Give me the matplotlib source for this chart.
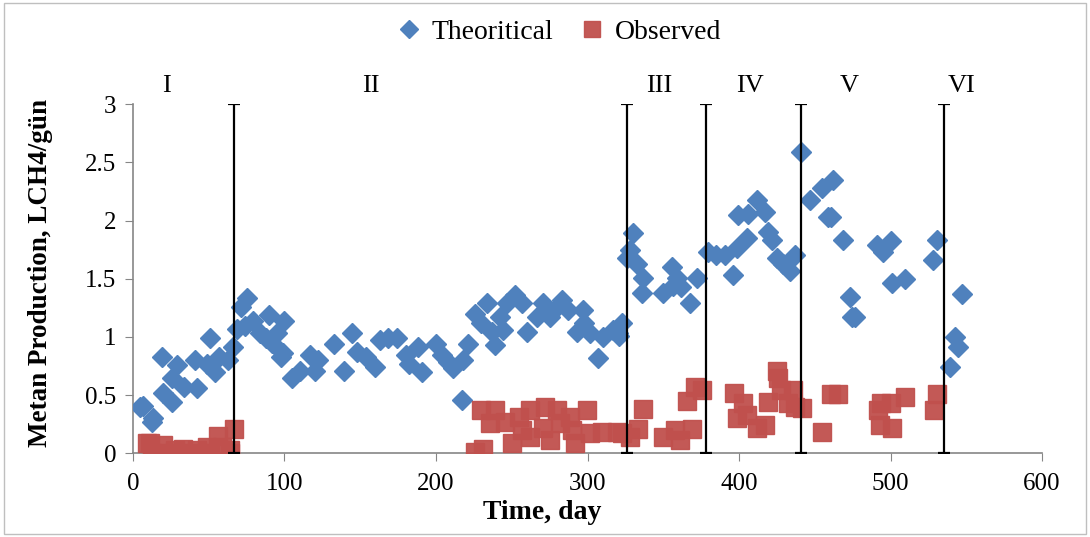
import matplotlib.pyplot as plt
from matplotlib.patches import Rectangle

# Theoritical (blue diamonds)
theo_day = [4.6, 6.6, 12.5, 13, 19, 20, 26, 26, 29, 34, 41, 42, 49, 51, 54, 57, 63, 66,
            68.6, 71, 74, 75, 79, 84, 88, 90, 92, 95, 98, 99, 100, 105, 110, 117, 120,
            122, 133, 139, 144.5, 148, 154, 160, 163, 168, 174, 180, 182, 188, 191,
            200, 204, 208, 211, 217, 218, 221, 226, 230, 233.5, 237, 239, 242, 244,
            247, 252, 257, 260, 266.5, 270.6, 275, 280, 283, 287, 293, 297, 298,
            301.6, 307, 310, 317, 320, 321, 323, 326, 328, 330, 332.6, 336, 336.6,
            350, 356, 356.6, 359, 362, 367.7, 372, 379.5, 385, 391, 396, 398.7, 399,
            405, 406, 412, 417, 419, 422, 425, 429, 433.7, 437, 441, 447, 455, 459,
            461, 462, 468.6, 473, 474.6, 476.6, 491, 495, 500, 501, 509.6, 528,
            530.7, 539, 542.6, 544.6, 547]
theo_val = [0.40, 0.41, 0.27, 0.30, 0.83, 0.52, 0.44, 0.65, 0.76, 0.57, 0.80, 0.56, 0.77,
            0.99, 0.70, 0.83, 0.80, 0.91, 1.07, 1.26, 1.09, 1.33, 1.14, 1.03, 0.99,
            1.19, 0.95, 1.03, 0.83, 0.86, 1.14, 0.65, 0.71, 0.84, 0.71, 0.80, 0.94,
            0.71, 1.03, 0.87, 0.83, 0.74, 0.97, 0.99, 0.99, 0.84, 0.77, 0.91, 0.70,
            0.94, 0.84, 0.78, 0.73, 0.46, 0.80, 0.94, 1.20, 1.12, 1.29, 1.04, 0.93,
            1.17, 1.06, 1.29, 1.36, 1.29, 1.04, 1.17, 1.29, 1.17, 1.26, 1.32, 1.23,
            1.04, 1.23, 1.12, 1.03, 0.82, 1.00, 1.06, 1.03, 1.01, 1.12, 1.68, 1.75,
            1.89, 1.63, 1.38, 1.51, 1.38, 1.60, 1.44, 1.51, 1.43, 1.29, 1.51, 1.73,
            1.70, 1.70, 1.53, 1.76, 2.05, 1.85, 2.06, 2.18, 2.07, 1.90, 1.83, 1.68,
            1.63, 1.57, 1.70, 2.59, 2.18, 2.28, 2.03, 2.03, 2.35, 1.83, 1.34, 1.17,
            1.17, 1.79, 1.73, 1.82, 1.46, 1.50, 1.66, 1.83, 0.74, 1.00, 0.91, 1.37]

# Observed (red squares)
obs_day = [9, 11, 12.5, 20, 23, 28, 33, 37.6, 42, 49, 51, 56, 58.7, 64, 64, 67,
           225.7, 230, 231, 235.6, 239, 245.5, 250, 255, 257, 262, 262, 270.6, 272,
           275, 280, 282, 288.5, 290, 291.7, 299.7, 301.7, 309.6, 319.5, 323, 328,
           333, 336.6, 350, 357.8, 361, 365.7, 369, 371, 375.6, 397, 398.7, 402.6,
           405, 412, 417, 419, 425, 426, 428, 432.6, 435.6, 437, 441.6, 455, 461,
           465, 491.7, 493, 494, 500, 501, 509.6, 529, 530.7]
obs_val = [0.09, 0.09, 0.0, 0.07, 0.0, 0.03, 0.04, 0.0, 0.03, 0.05, 0.0, 0.15, 0.05,
           0.03, 0.0, 0.21, 0.01, 0.37, 0.04, 0.26, 0.37, 0.27, 0.09, 0.31, 0.20,
           0.37, 0.14, 0.22, 0.40, 0.11, 0.37, 0.26, 0.31, 0.20, 0.09, 0.37, 0.17,
           0.18, 0.18, 0.17, 0.14, 0.21, 0.38, 0.14, 0.20, 0.11, 0.45, 0.21, 0.57,
           0.54, 0.52, 0.30, 0.43, 0.33, 0.22, 0.24, 0.44, 0.71, 0.65, 0.54, 0.43,
           0.54, 0.40, 0.39, 0.18, 0.51, 0.51, 0.37, 0.24, 0.43, 0.43, 0.22, 0.48,
           0.37, 0.51]

# phase boundaries and labels
bounds = [67, 326, 378, 441, 535]
phase_names = ['I', 'II', 'III', 'IV', 'V', 'VI']
phase_x = [22, 157, 347, 407, 473, 547]

plt.rcParams['font.family'] = ['Liberation Serif', 'DejaVu Serif']

fig = plt.figure(figsize=(10.9, 5.37), dpi=100)
ax = fig.add_axes([0.122, 0.156, 0.834, 0.650])

ax.plot(theo_day, theo_val, 'D', color='#4F81BD', ms=10.5, mec='#4F81BD',
        label='Theoritical', zorder=3)
ax.plot(obs_day, obs_val, 's', color='#C0504D', ms=13, mec='#C0504D', alpha=0.95,
        label='Observed', zorder=3)

ax.errorbar(bounds, [1.5] * len(bounds), yerr=1.5, fmt='none', ecolor='black',
            elinewidth=1.6, capsize=4, capthick=1.6, zorder=4)

for name, xp in zip(phase_names, phase_x):
    ax.text(xp, 3.16, name, ha='center', va='center', fontsize=19, clip_on=False)

ax.set_xlim(0, 600)
ax.set_ylim(0, 3)
ax.set_xticks(range(0, 601, 100))
ax.set_yticks([0, 0.5, 1, 1.5, 2, 2.5, 3])
ax.set_yticklabels(['0', '0.5', '1', '1.5', '2', '2.5', '3'])
ax.tick_params(direction='out', length=6, color='#868686', labelsize=18)
ax.tick_params(axis='x', pad=8)
ax.tick_params(axis='y', pad=6)
for s in ['top', 'right']:
    ax.spines[s].set_visible(False)
for s in ['left', 'bottom']:
    ax.spines[s].set_color('#868686')
    ax.spines[s].set_linewidth(1.2)

ax.set_xlabel('Time, day', fontsize=20, fontweight='bold')
ax.xaxis.set_label_coords(0.45, -0.135)
ax.set_ylabel('Metan Production, LCH4/gün', fontsize=19.5, fontweight='bold')
ax.yaxis.set_label_coords(-0.088, 0.515)

leg = fig.legend(loc='center', bbox_to_anchor=(0.512, 0.940), ncol=2,
                 frameon=False, fontsize=20, handletextpad=0.3, columnspacing=0.9,
                 markerscale=0.85, handlelength=1.0)

fig.patches.append(Rectangle((0.004, 0.006), 0.992, 0.988, transform=fig.transFigure,
                             fill=False, edgecolor='#bfbfbf', linewidth=1))

fig.savefig('out.png', dpi=100)
